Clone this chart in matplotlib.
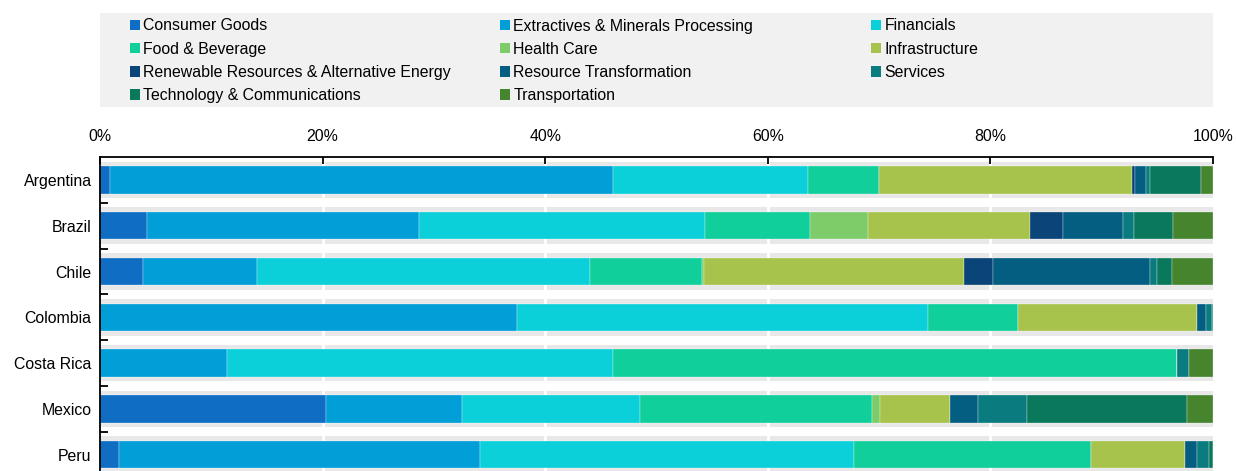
import numpy as np
import matplotlib.pyplot as plt
from matplotlib.patches import Patch, Rectangle
from matplotlib.ticker import FixedLocator, PercentFormatter

plt.rcParams['font.family'] = ['Liberation Sans', 'DejaVu Sans']
plt.rcParams['font.size'] = 11.4

# Share of each sector per country (percent, each row sums to 100)
countries = ["Argentina", "Brazil", "Chile", "Colombia", "Costa Rica", "Mexico", "Peru"]

consumer_goods = [0.9, 4.2, 3.9, 0.0, 0.0, 20.3, 1.7]
extractives = [45.2, 24.5, 10.2, 37.5, 11.4, 12.2, 32.4]
financials = [17.5, 25.7, 29.9, 36.9, 34.7, 16.0, 33.6]
food_beverage = [6.4, 9.4, 10.1, 8.1, 50.7, 20.9, 21.3]
health_care = [0.0, 5.2, 0.2, 0.0, 0.0, 0.7, 0.0]
infrastructure = [22.7, 14.6, 23.3, 16.1, 0.0, 6.3, 8.5]
renewables = [0.3, 2.9, 2.6, 0.0, 0.0, 0.0, 0.0]
resource_transf = [1.0, 5.4, 14.1, 0.8, 0.0, 2.5, 1.1]
services = [0.3, 1.0, 0.7, 0.5, 1.0, 4.4, 1.0]
tech_comms = [4.6, 3.5, 1.3, 0.1, 0.0, 14.4, 0.4]
transportation = [1.1, 3.6, 3.7, 0.0, 2.2, 2.3, 0.0]

sectors = ["Consumer Goods", "Extractives & Minerals Processing", "Financials",
           "Food & Beverage", "Health Care", "Infrastructure",
           "Renewable Resources & Alternative Energy", "Resource Transformation", "Services",
           "Technology & Communications", "Transportation"]
values = [consumer_goods, extractives, financials, food_beverage, health_care,
          infrastructure, renewables, resource_transf, services, tech_comms, transportation]
colors = ["#0f6dc4", "#019ed8", "#0cd0d9", "#11cf9b", "#7dcc69", "#a7c34b",
          "#0b4479", "#035e81", "#0a7c80", "#0a785b", "#46852e"]

W, H = 1236, 471
fig = plt.figure(figsize=(W / 100, H / 100), dpi=100)
# plot runs a little past the bottom edge of the figure
ax = fig.add_axes([100 / W, -6.6 / H, 1113 / W, 320.6 / H])

y = np.arange(len(countries))

# light grey track behind every bar
ax.barh(y, 100, height=0.8, color="#e8e8e8", zorder=1)
for gx in [20, 40, 60, 80]:
    ax.axvline(gx, color="white", lw=2, zorder=1.5)

left = np.zeros(len(countries))
for name, vals, col in zip(sectors, values, colors):
    vals = np.array(vals)
    ax.barh(y, vals, left=left, height=0.6, color=col, edgecolor="white",
            linewidth=0.2, zorder=2, label=name)
    left += vals

ax.set_xlim(0, 100)
ax.set_ylim(len(countries) - 0.5, -0.5)

ax.xaxis.tick_top()
ax.xaxis.set_major_locator(FixedLocator([0, 20, 40, 60, 80, 100]))
ax.xaxis.set_major_formatter(PercentFormatter(decimals=0))
ax.tick_params(axis="x", direction="in", length=5, width=1.3, pad=9, colors="black")

ax.set_yticks(y)
ax.set_yticklabels(countries)
ax.yaxis.set_minor_locator(FixedLocator(np.arange(0.5, len(countries), 1)))
ax.tick_params(axis="y", which="major", length=0, pad=6)
ax.tick_params(axis="y", which="minor", direction="in", length=6, width=1.3)

for s in ["right", "bottom"]:
    ax.spines[s].set_visible(False)
for s in ["top", "left"]:
    ax.spines[s].set_linewidth(1.3)
    ax.spines[s].set_color("black")

# legend panel: grey box with three separately placed columns
fig.patches.append(Rectangle((100 / W, 1 - 107 / H), 1113 / W, 94 / H,
                             transform=fig.transFigure, facecolor="#f1f1f1",
                             edgecolor="none", zorder=0))
handles = [Patch(facecolor=c, edgecolor="none") for c in colors]
columns = [[0, 3, 6, 9], [1, 4, 7, 10], [2, 5, 8]]
col_x = [130, 500, 871]
for idx, cx in zip(columns, col_x):
    leg = fig.legend([handles[i] for i in idx], [sectors[i] for i in idx],
                     loc="upper left", bbox_to_anchor=(cx / W, 1 - 18.5 / H),
                     frameon=False, borderpad=0, borderaxespad=0,
                     handlelength=0.62, handleheight=0.62, handletextpad=0.22,
                     labelspacing=0.52, fontsize=11.4)

fig.savefig("out.png", dpi=100)
